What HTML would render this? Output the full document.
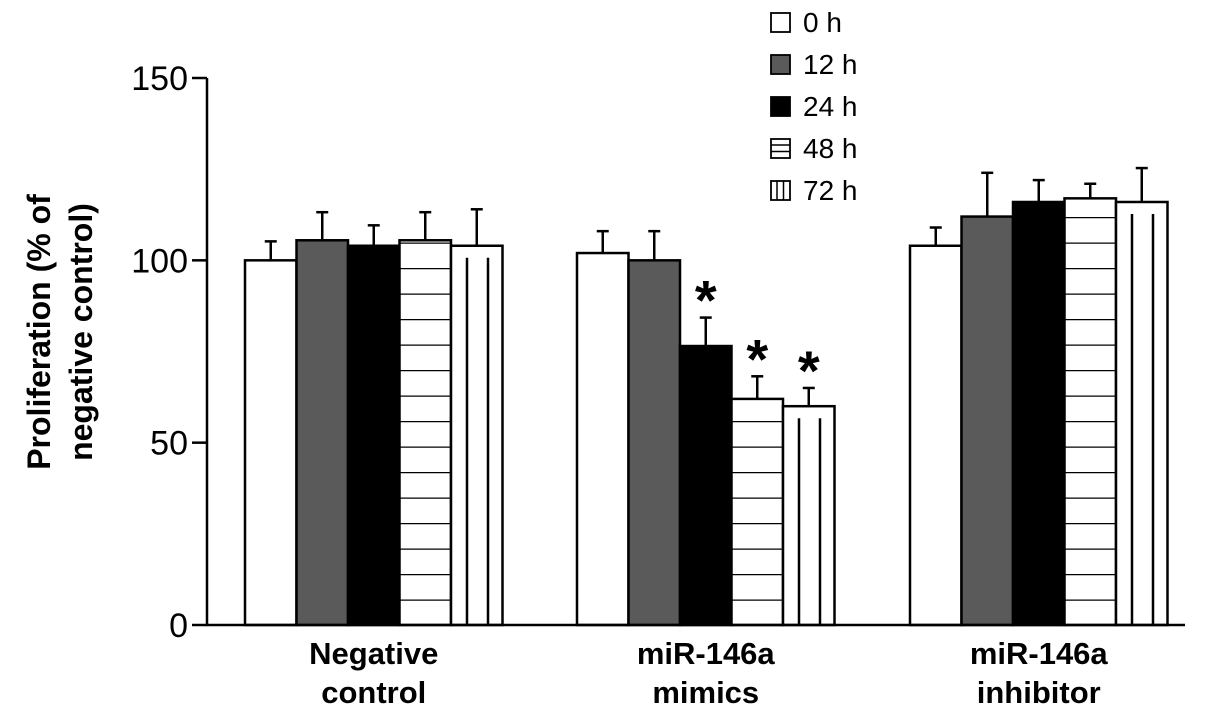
<!DOCTYPE html>
<html><head><meta charset="utf-8"><style>
body{margin:0;background:#fff}
svg{display:block;font-family:"Liberation Sans",Arial,sans-serif}
</style></head><body>
<svg id="chart" width="1205" height="711">
<defs>
<pattern id="hstripe" patternUnits="userSpaceOnUse" width="60" height="25.5" y="625"><rect width="60" height="25.5" fill="#fff"/><line x1="0" y1="0" x2="60" y2="0" stroke="#000" stroke-width="2.5"/></pattern>
</defs>
<g id="plot"></g>
</svg>
<script>
const groups=["Negative control","miR-146a mimics","miR-146a inhibitor"];
const groupLine1=["Negative","miR-146a","miR-146a"];
const groupLine2=["control","mimics","inhibitor"];
const seriesNames=["0 h","12 h","24 h","48 h","72 h"];
const s0h=[100,102,104];
const s12h=[105.5,100,112];
const s24h=[104,76.5,116];
const s48h=[105.5,62,117];
const s72h=[104,60,116];
const e0h=[5.2,6,5];
const e12h=[7.7,8,12];
const e24h=[5.6,7.8,6];
const e48h=[7.7,6.2,4];
const e72h=[10,5,9.3];
const sig=[[false,false,false],[false,false,false],[false,true,false],[false,true,false],[false,true,false]];
const yTicks=[0,50,100,150];
const series=[s0h,s12h,s24h,s48h,s72h];
const errs=[e0h,e12h,e24h,e48h,e72h];
const NS="http://www.w3.org/2000/svg";
const g=document.getElementById('plot');
const y0=625,yPer=547/150;
const Y=v=>y0-v*yPer;
const gStart=[245,577,910],bw=51.5;
const X=(gi,si)=>gStart[gi]+si*bw;
function el(t,a){const e=document.createElementNS(NS,t);for(const k in a)e.setAttribute(k,a[k]);g.appendChild(e);return e;}
const fills=["#fff","#5a5a5a","#000","url(#hstripe)","#fff"];
series.forEach((arr,si)=>arr.forEach((v,gi)=>{
  const x=X(gi,si),top=Y(v),e=errs[si][gi];
  const cx=x+bw/2;
  const eb=el('line',{x1:cx,y1:top,x2:cx,y2:Y(v+e),stroke:'#000','stroke-width':2.5});
  
  
  const cap=el('line',{x1:cx-6,y1:Y(v+e),x2:cx+6,y2:Y(v+e),stroke:'#000','stroke-width':2.5});
  
  
  const r=el('rect',{x:x,y:top,width:bw,height:y0-top,fill:fills[si],stroke:'#000','stroke-width':2.5});
  
  
  if(si===4){[16,37].forEach(o=>{const l=el('line',{x1:x+o,y1:top+12,x2:x+o,y2:y0,stroke:'#000','stroke-width':2.5});
    
    });}
  if(sig[si][gi]){const t=el('text',{x:cx,y:Y(v+e)+2,'text-anchor':'middle','font-size':56,'font-weight':'bold'});t.textContent='*';
    
    }
}));
const ax=el('path',{d:`M207 ${Y(150)} V${y0} H1185`,fill:'none',stroke:'#000','stroke-width':2.5});


yTicks.forEach(v=>{const tk=el('line',{x1:192,y1:Y(v),x2:207,y2:Y(v),stroke:'#000','stroke-width':2.5});
  
  
  const t=el('text',{x:188,y:Y(v)+12,'text-anchor':'end','font-size':34});t.textContent=v;
  
  });
groups.forEach((n,gi)=>{const cx=gStart[gi]+bw*2.5;
  const t=el('text',{x:cx,y:664,'text-anchor':'middle','font-size':31,'font-weight':'bold'});t.textContent=groupLine1[gi];
  
  
  const t2=el('text',{x:cx,y:703,'text-anchor':'middle','font-size':31,'font-weight':'bold'});t2.textContent=groupLine2[gi];
  
  });
const yt=el('text',{transform:'translate(50,332) rotate(-90)','text-anchor':'middle','font-size':32,'font-weight':'bold'});


yt.innerHTML='<tspan x="0" dy="0">Proliferation (% of</tspan><tspan x="0" dy="42">negative control)</tspan>';
seriesNames.forEach((n,i)=>{const cy=22+i*42;
  const r=el('rect',{x:771,y:cy-9,width:19,height:19,fill:i===3||i===4?'#fff':fills[i],stroke:'#000','stroke-width':1.8});
  
  
  if(i===3){[6,12.5].forEach(o=>{const l=el('line',{x1:771,y1:cy-9+o,x2:790,y2:cy-9+o,stroke:'#000','stroke-width':1.5});});}
  if(i===4){[6,12.5].forEach(o=>{const l=el('line',{x1:771+o,y1:cy-9,x2:771+o,y2:cy+10,stroke:'#000','stroke-width':1.5});});}
  const t=el('text',{x:803,y:cy+10,'font-size':28});t.textContent=n;
  
  });
</script>
</body></html>
